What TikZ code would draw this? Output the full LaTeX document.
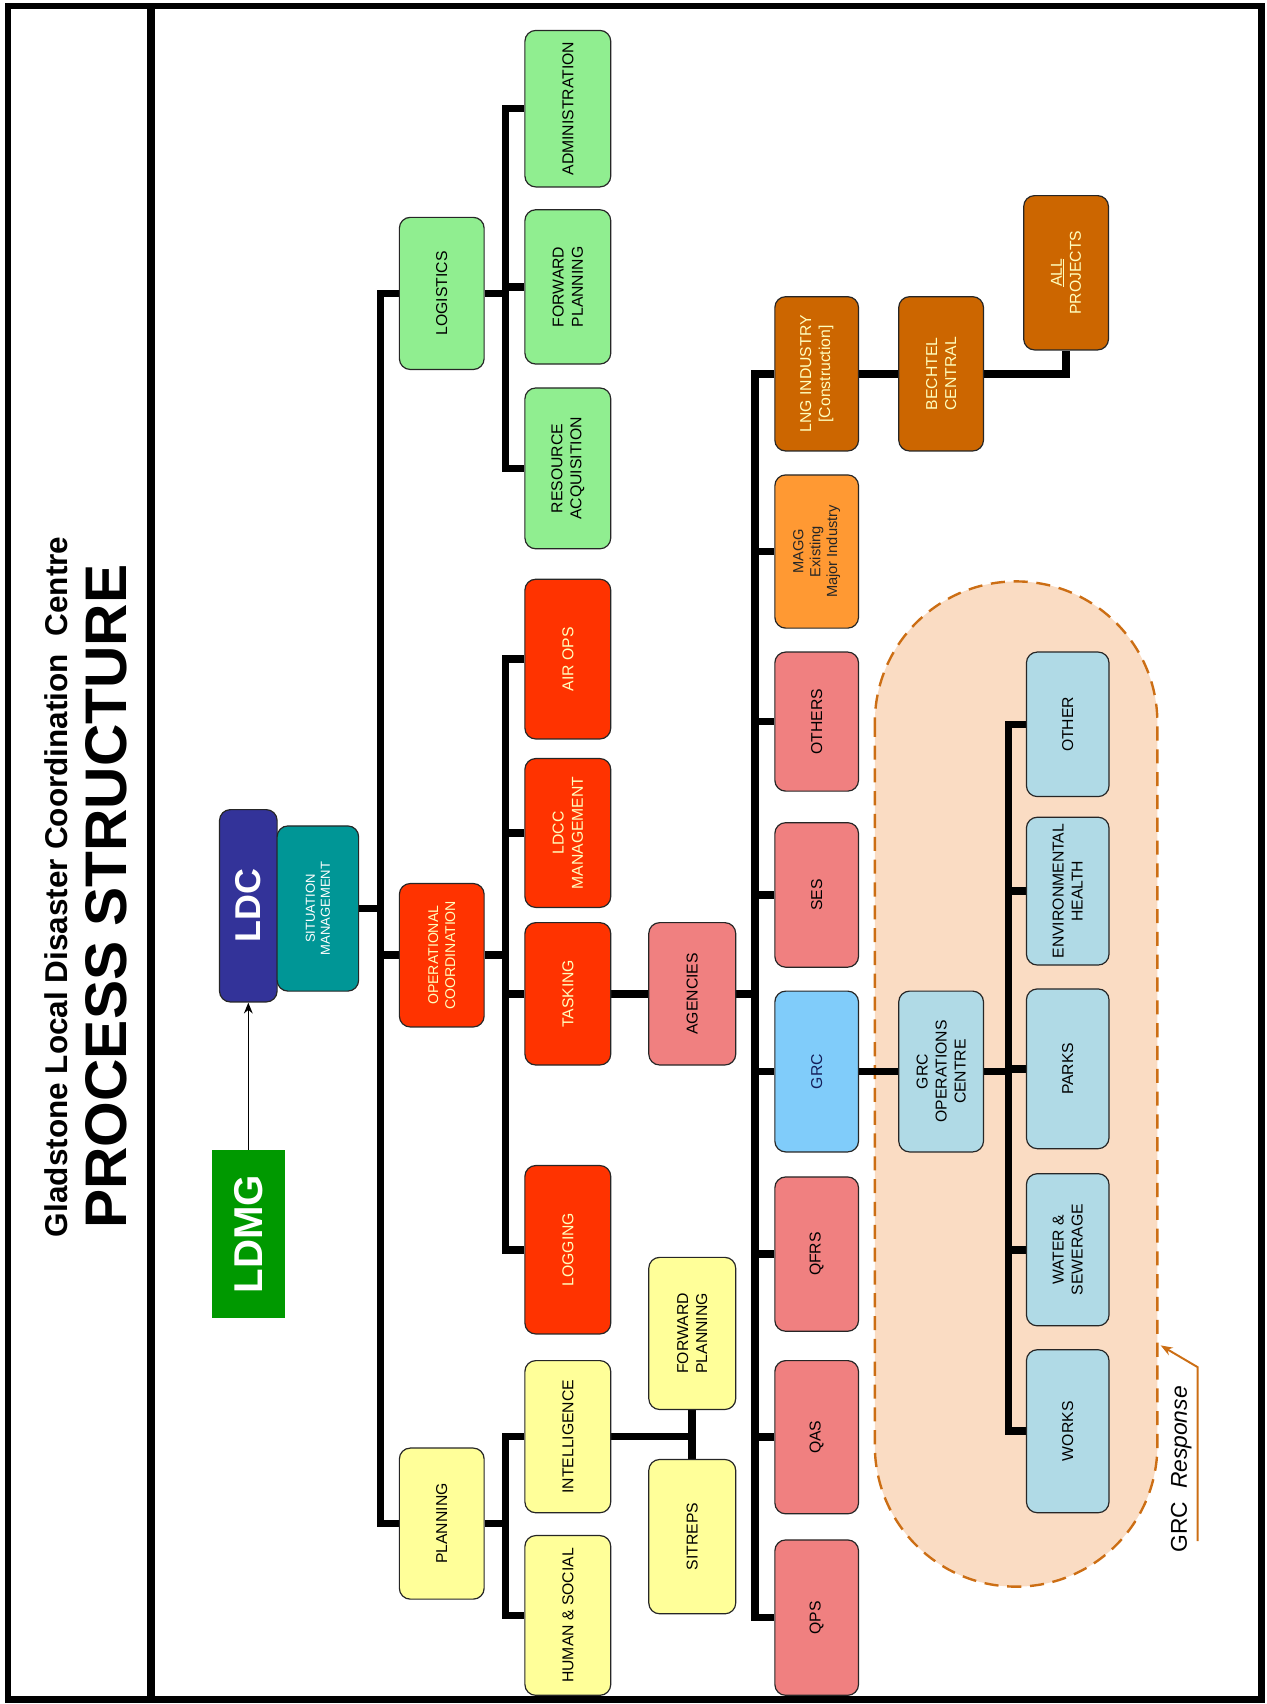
\documentclass[tikz,border=0pt]{standalone}
\usepackage{fontspec}
\setmainfont{Liberation Sans}
\usetikzlibrary{arrows.meta}
\pgfdeclarelayer{bg}
\pgfsetlayers{bg,main}

\definecolor{lgreen}{RGB}{144,238,144}
\definecolor{opred}{RGB}{255,51,0}
\definecolor{pyellow}{RGB}{255,255,153}
\definecolor{apink}{RGB}{240,128,128}
\definecolor{grcblue}{RGB}{128,204,250}
\definecolor{lblue}{RGB}{176,218,230}
\definecolor{dorange}{RGB}{204,102,0}
\definecolor{morange}{RGB}{255,153,51}
\definecolor{peach}{RGB}{250,220,195}
\definecolor{sitteal}{RGB}{0,150,150}
\definecolor{ldcblue}{RGB}{51,51,153}
\definecolor{ldmggreen}{RGB}{0,153,0}
\definecolor{paletext}{RGB}{255,255,190}
\definecolor{dashorange}{RGB}{204,110,20}
\definecolor{navytext}{RGB}{20,30,90}

\begin{document}
\begin{tikzpicture}[x=1pt,y=-1pt,
  card/.style={draw=black!85, line width=1.1pt, rounded corners=10pt, rotate=90,
    align=center, inner sep=1pt, font=\fontsize{14.5}{17.5}\selectfont},
  greencard/.style={card, fill=lgreen},
  redcard/.style={card, fill=opred, text=paletext},
  yellowcard/.style={card, fill=pyellow},
  pinkcard/.style={card, fill=apink},
  bluecard/.style={card, fill=lblue},
  brown/.style={card, fill=dorange, text=paletext},
  bus/.style={line width=7pt, black},
]
\useasboundingbox (0,0) rectangle (1165,1568);

% frame and title column
\draw[line width=6pt] (7.5,5.5) rectangle (1161,1564);
\draw[line width=8pt] (139,5) -- (139,1564);
\node[rotate=90, font=\bfseries\fontsize{29}{30}\selectfont] (title) at (52,816)
  {Gladstone Local Disaster Coordination\ \ Centre};
\node[rotate=90, font=\bfseries\fontsize{54}{56}\selectfont] (subtitle) at (98,825)
  {PROCESS\hspace{14pt}STRUCTURE};

% top of the structure
\node[rotate=90, fill=ldmggreen, text=white, font=\bfseries\fontsize{37}{38}\selectfont,
  minimum width=155pt, minimum height=67pt, inner sep=0pt] (ldmg) at (228.5,1135.5) {LDMG};
\node[card, fill=ldcblue, text=white, font=\bfseries\fontsize{33}{34}\selectfont,
  minimum width=177pt, minimum height=53pt] (ldc) at (228.5,833.5) {LDC};
\node[card, fill=sitteal, text=white, font=\fontsize{12}{14}\selectfont,
  minimum width=152pt, minimum height=75pt] (sit) at (292.5,836) {SITUATION\\MANAGEMENT};

% first level
\node[greencard, minimum width=140pt, minimum height=78pt] (logi) at (406.5,270) {LOGISTICS};
\node[redcard, minimum width=132pt, minimum height=78pt, font=\fontsize{13}{15.5}\selectfont] (opc) at (406.5,879) {OPERATIONAL\\COORDINATION};
\node[yellowcard, minimum width=139pt, minimum height=78pt] (plan) at (406.5,1402) {PLANNING};

% second level
\node[greencard, minimum width=144pt, minimum height=79pt] (admin) at (522.5,100) {ADMINISTRATION};
\node[greencard, minimum width=142pt, minimum height=79pt] (fwdl) at (522.5,264) {FORWARD\\PLANNING};
\node[greencard, minimum width=148pt, minimum height=79pt] (resacq) at (522.5,431) {RESOURCE\\ACQUISITION};
\node[redcard, minimum width=147pt, minimum height=79pt] (airops) at (522.5,606.5) {AIR OPS};
\node[redcard, minimum width=137pt, minimum height=79pt] (ldcc) at (522.5,766.5) {LDCC\\MANAGEMENT};
\node[redcard, minimum width=131pt, minimum height=79pt] (task) at (522.5,914.5) {TASKING};
\node[redcard, minimum width=155pt, minimum height=79pt] (logging) at (522.5,1150) {LOGGING};
\node[yellowcard, minimum width=140pt, minimum height=79pt] (intel) at (522.5,1322) {INTELLIGENCE};
\node[yellowcard, minimum width=147pt, minimum height=79pt] (human) at (522.5,1486.5) {HUMAN \& SOCIAL};

% third level
\node[pinkcard, minimum width=131pt, minimum height=80pt] (agen) at (637,914.5) {AGENCIES};
\node[yellowcard, minimum width=140pt, minimum height=80pt] (fwdp) at (637,1227) {FORWARD\\PLANNING};
\node[yellowcard, minimum width=142pt, minimum height=80pt] (sitreps) at (637,1414) {SITREPS};

% agencies
\node[brown, minimum width=142pt, minimum height=77pt] (lng) at (751.5,344) {LNG INDUSTRY\\{[}Construction{]}};
\node[card, fill=morange, text=black!85, font=\fontsize{13.5}{15.5}\selectfont,
  minimum width=141pt, minimum height=77pt] (magg) at (751.5,507.5) {MAGG\\Existing\\Major Industry};
\node[pinkcard, minimum width=128pt, minimum height=77pt] (others) at (751.5,664) {OTHERS};
\node[pinkcard, minimum width=133pt, minimum height=77pt] (ses) at (751.5,823.5) {SES};
\node[card, fill=grcblue, text=navytext, minimum width=148pt, minimum height=77pt] (grc) at (751.5,986) {GRC};
\node[pinkcard, minimum width=142pt, minimum height=77pt] (qfrs) at (751.5,1154) {QFRS};
\node[pinkcard, minimum width=141pt, minimum height=77pt] (qas) at (751.5,1322.5) {QAS};
\node[pinkcard, minimum width=143pt, minimum height=77pt] (qps) at (751.5,1488.5) {QPS};

% construction branch
\node[brown, minimum width=142pt, minimum height=78pt] (bech) at (866,344) {BECHTEL\\CENTRAL};
\node[brown, minimum width=142pt, minimum height=78pt] (allp) at (981,251) {\underline{ALL}\\PROJECTS};

% council response area
\begin{pgfonlayer}{bg}
\fill[peach] (805,535) [rounded corners=130pt] rectangle (1065,1460);
\draw[dashorange, line width=2.2pt, dash pattern=on 13pt off 8pt] (805,535) [rounded corners=130pt] rectangle (1065,1460);
\end{pgfonlayer}

\node[bluecard, minimum width=148pt, minimum height=78pt] (grcops) at (866,986) {GRC\\OPERATIONS\\CENTRE};
\node[bluecard, minimum width=133pt, minimum height=76pt] (other) at (982.5,666.5) {OTHER};
\node[bluecard, minimum width=136pt, minimum height=76pt] (envh) at (982.5,820) {ENVIRONMENTAL\\HEALTH};
\node[bluecard, minimum width=147pt, minimum height=76pt] (parks) at (982.5,983.5) {PARKS};
\node[bluecard, minimum width=140pt, minimum height=76pt] (water) at (982.5,1150) {WATER \&\\SEWERAGE};
\node[bluecard, minimum width=150pt, minimum height=76pt] (works) at (982.5,1317) {WORKS};

\node[rotate=90, font=\fontsize{21}{22}\selectfont] (resplabel) at (1087,1352) {GRC\ \ \textit{Response}};
\coordinate (rtail) at (1102,1418);
\coordinate (rbend) at (1102,1258);
\coordinate (rtip) at (1068,1238);
\draw[dashorange, line width=1.8pt, -{Stealth[length=11pt,width=8pt]}] (rtail) -- (rbend) -- (rtip);

% bus positions
\coordinate (bus1) at (350,0);
\coordinate (bus2) at (465,0);
\coordinate (bus3) at (695,0);
\coordinate (bus4) at (928,0);

\draw[line width=1.3pt, -{Stealth[length=10pt,width=8pt]}] (ldmg.east) -- (ldmg.east |- ldc.west);

\begin{pgfonlayer}{bg}
% main spine
\draw[bus] (logi.north) -- (logi.north -| bus1) -- (plan.north -| bus1) -- (plan.north);
\draw[bus] (sit.south) -- (sit.south -| bus1);
\draw[bus] (opc.north) -- (opc.north -| bus1);
% logistics
\draw[bus] (logi.south) -- (logi.south -| bus2);
\draw[bus] (admin.north) -- (admin.north -| bus2) -- (resacq.north -| bus2) -- (resacq.north);
\draw[bus] (fwdl.north) -- (fwdl.north -| bus2);
% operational coordination
\draw[bus] (opc.south) -- (opc.south -| bus2);
\draw[bus] (airops.north) -- (airops.north -| bus2) -- (logging.north -| bus2) -- (logging.north);
\draw[bus] (ldcc.north) -- (ldcc.north -| bus2);
\draw[bus] (task.north) -- (task.north -| bus2);
% planning
\draw[bus] (plan.south) -- (plan.south -| bus2);
\draw[bus] (intel.north) -- (intel.north -| bus2) -- (human.north -| bus2) -- (human.north);
\draw[bus] (intel.south) -- (intel.south -| fwdp.west);
\draw[bus] (fwdp.west) -- (sitreps.east);
% agencies
\draw[bus] (task.south) -- (agen.north);
\draw[bus] (agen.south) -- (agen.south -| bus3);
\draw[bus] (lng.north) -- (lng.north -| bus3) -- (qps.north -| bus3) -- (qps.north);
\foreach \n in {magg,others,ses,grc,qfrs,qas} \draw[bus] (\n.north) -- (\n.north -| bus3);
\draw[bus] (lng.south) -- (bech.north);
\draw[bus] (bech.south) -- (bech.south -| allp.west) -- (allp.west);
% council operations
\draw[bus] (grc.south) -- (grcops.north);
\draw[bus] (grcops.south) -- (grcops.south -| bus4);
\draw[bus] (other.north) -- (other.north -| bus4) -- (works.north -| bus4) -- (works.north);
\foreach \n in {envh,parks,water} \draw[bus] (\n.north) -- (\n.north -| bus4);
\end{pgfonlayer}
\end{tikzpicture}
\end{document}
